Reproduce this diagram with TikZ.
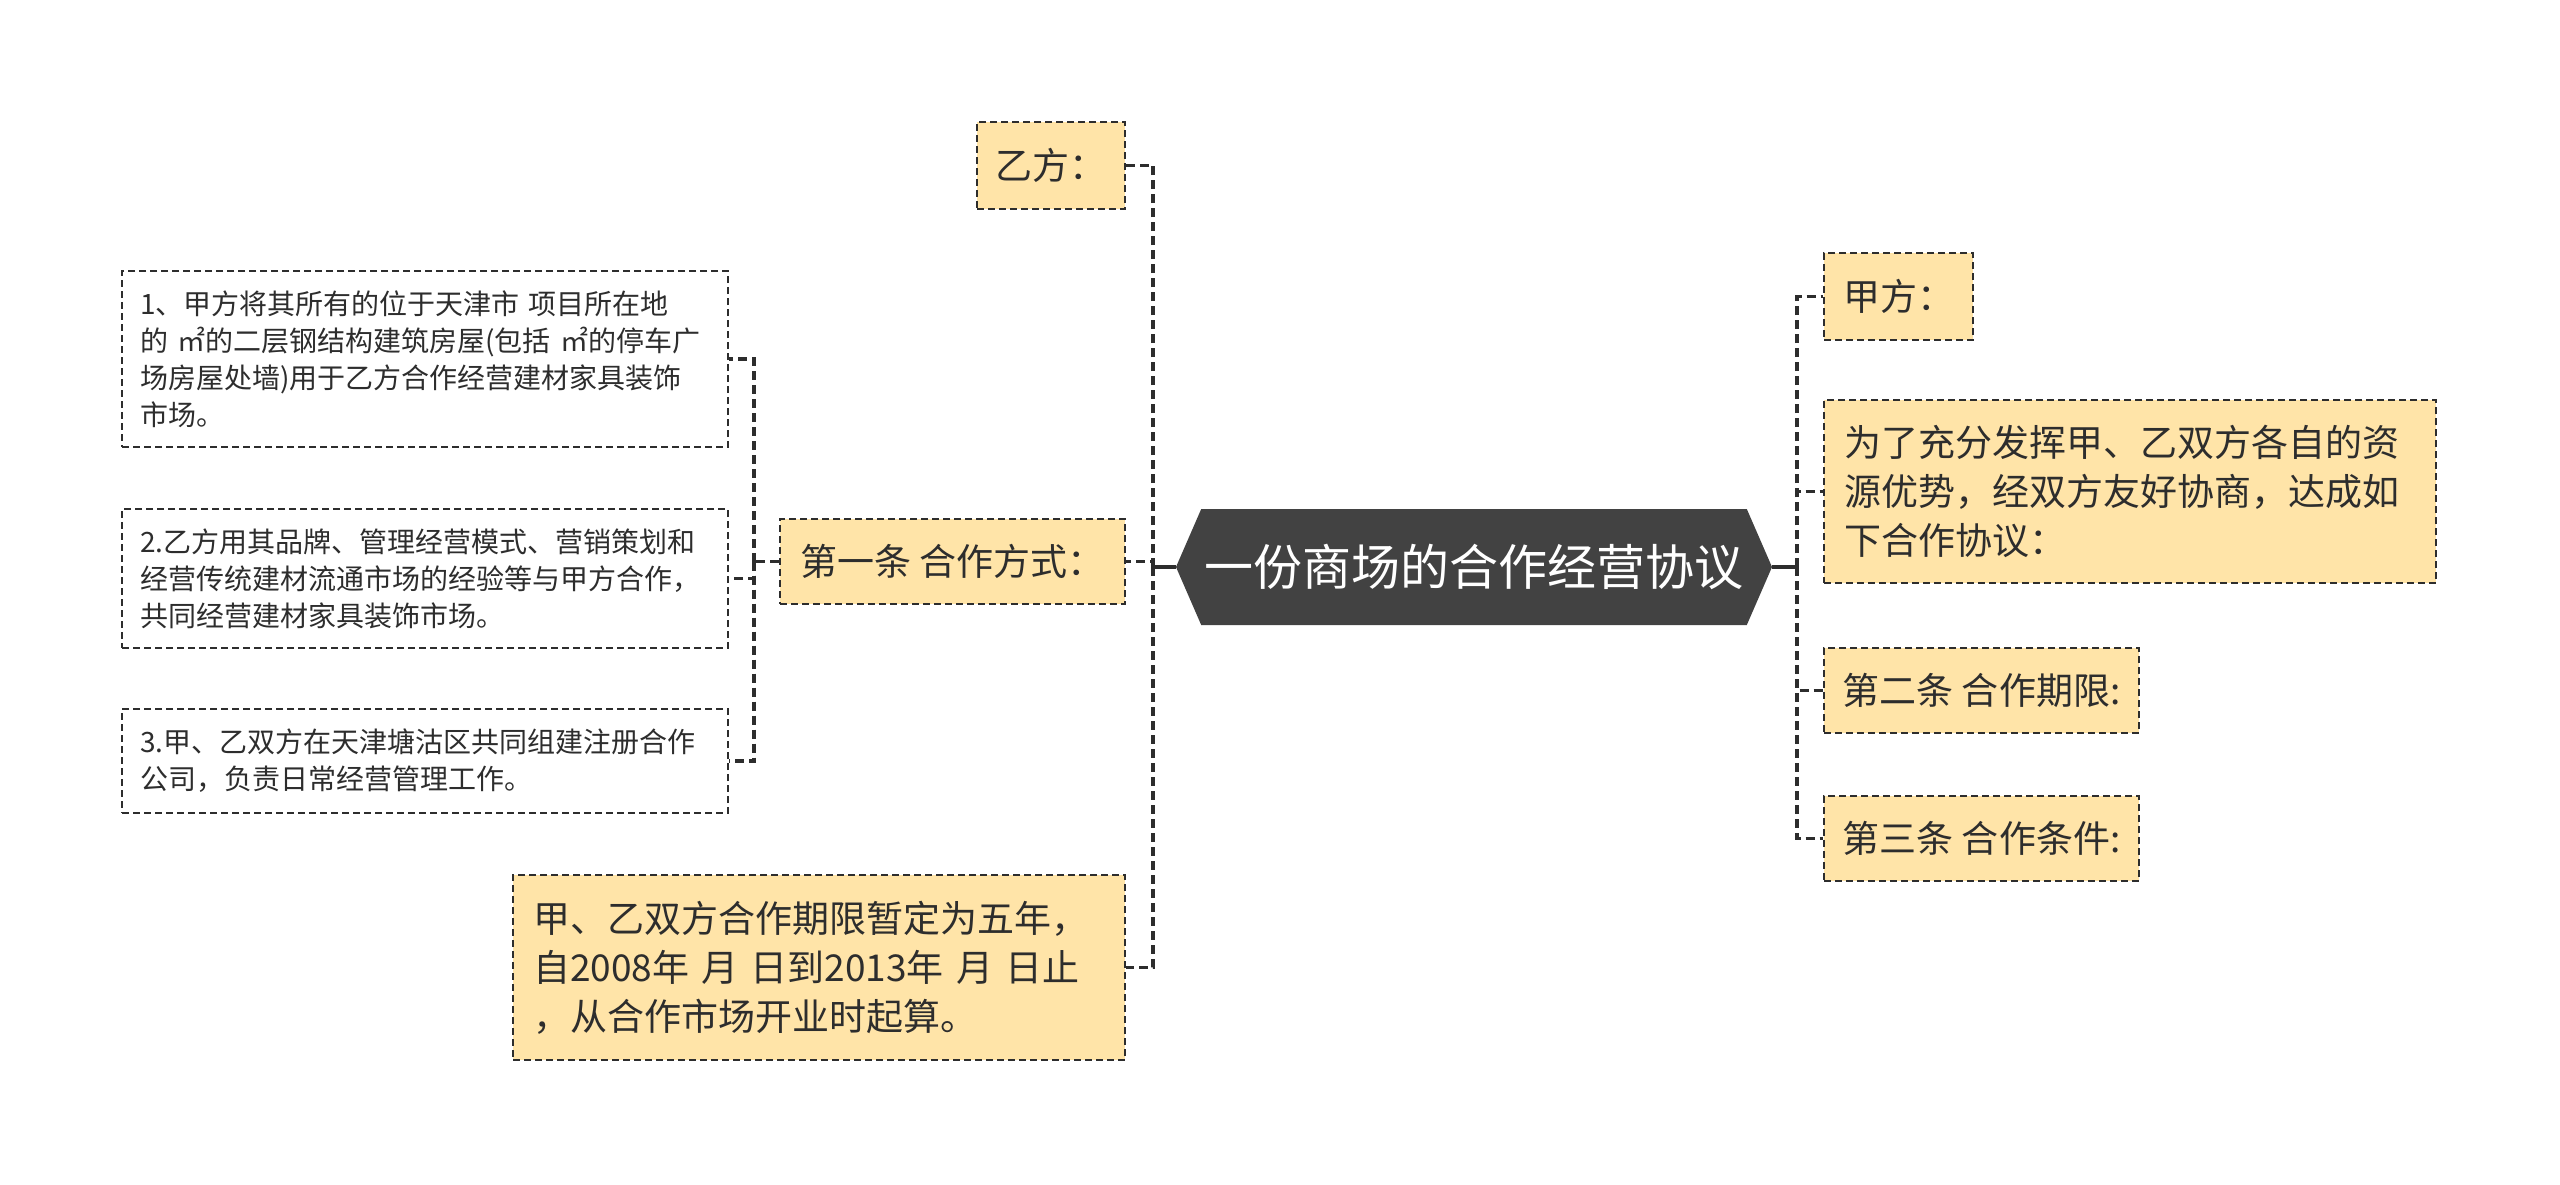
\documentclass[tikz,border=0pt]{standalone}
\usepackage{fontspec}
\setmainfont{Noto Sans CJK SC}
\usetikzlibrary{shapes.symbols}
\definecolor{jaune}{RGB}{255,228,168}
\definecolor{gris}{RGB}{66,66,66}
\definecolor{trait}{RGB}{45,45,45}

\begin{document}
\begin{tikzpicture}[x=0.5pt,y=-0.5pt,
	boite/.style={draw=trait, line width=1.2pt, dash pattern=on 3.5pt off 2pt,
		fill=jaune, text=trait, align=left, inner xsep=10pt, inner ysep=0pt,
		font=\fontsize{18.5}{24.5}\selectfont},
	court/.style={boite, inner xsep=4pt},
	petit/.style={boite, fill=white, inner xsep=9pt,
		font=\fontsize{14}{18.5}\selectfont},
	lien/.style={draw=trait, line width=1.8pt, dash pattern=on 4.5pt off 2.5pt},
	plein/.style={draw=trait, line width=1.8pt}]
	\useasboundingbox[fill=white] (0,0) rectangle (2560,1184);
	% noeud central
	\node[shape=signal, signal to=west and east, signal pointer angle=133,
		fill=gris, text=white, minimum width=298pt, minimum height=58pt,
		inner sep=0pt, font=\fontsize{24.5}{28}\selectfont] (titre) at (1474,567) {一份商场的合作经营协议};
	% branche gauche
	\node[court, minimum width=74pt, minimum height=43.5pt] (yifang) at (1051,165.5) {乙方：};
	\node[court, minimum width=172.5pt, minimum height=42.5pt] (fangshi) at (952.5,561.5) {第一条 合作方式：};
	\node[boite, text width=286pt, minimum height=92.5pt] (qixian) at (819,967.5)
		{甲、乙双方合作期限暂定为五年，\\自2008年 月 日到2013年 月 日止\\，从合作市场开业时起算。};
	% articles du premier point
	\node[petit, text width=285pt, minimum height=88pt] (art1) at (425,359)
		{1、甲方将其所有的位于天津市 项目所在地\\的 ㎡的二层钢结构建筑房屋(包括 ㎡的停车广\\场房屋处墙)用于乙方合作经营建材家具装饰\\市场。};
	\node[petit, text width=285pt, minimum height=69.5pt] (art2) at (425,578.5)
		{2.乙方用其品牌、管理经营模式、营销策划和\\经营传统建材流通市场的经验等与甲方合作，\\共同经营建材家具装饰市场。};
	\node[petit, text width=285pt, minimum height=52pt] (art3) at (425,761)
		{3.甲、乙双方在天津塘沽区共同组建注册合作\\公司，负责日常经营管理工作。};
	% branche droite
	\node[court, minimum width=74.5pt, minimum height=43.5pt] (jiafang) at (1898.5,296.5) {甲方：};
	\node[boite, text width=286pt, minimum height=91.5pt] (preambule) at (2130,491.5)
		{为了充分发挥甲、乙双方各自的资\\源优势，经双方友好协商，达成如\\下合作协议：};
	\node[court, minimum width=157.5pt, minimum height=42.5pt] (qixiantiao) at (1981.5,690.5) {第二条 合作期限:};
	\node[court, minimum width=157.5pt, minimum height=42.5pt] (tiaojian) at (1981.5,838.5) {第三条 合作条件:};
	% liaisons
	\coordinate (gauche) at (1153,567);
	\coordinate (droite) at (1797,567);
	\coordinate (sous) at (754,561.5);
	\draw[plein] (titre.west) -- (gauche);
	\draw[plein] (titre.east) -- (droite);
	\draw[lien] (gauche) |- (yifang.east);
	\draw[lien] (gauche) |- (fangshi.east);
	\draw[lien] (gauche) |- (qixian.east);
	\draw[lien] (droite) |- (jiafang.west);
	\draw[lien] (droite) |- (preambule.west);
	\draw[lien] (droite) |- (qixiantiao.west);
	\draw[lien] (droite) |- (tiaojian.west);
	\draw[lien] (fangshi.west) -- (sous);
	\draw[lien] (sous) |- (art1.east);
	\draw[lien] (sous) |- (art2.east);
	\draw[lien] (sous) |- (art3.east);
\end{tikzpicture}
\end{document}
